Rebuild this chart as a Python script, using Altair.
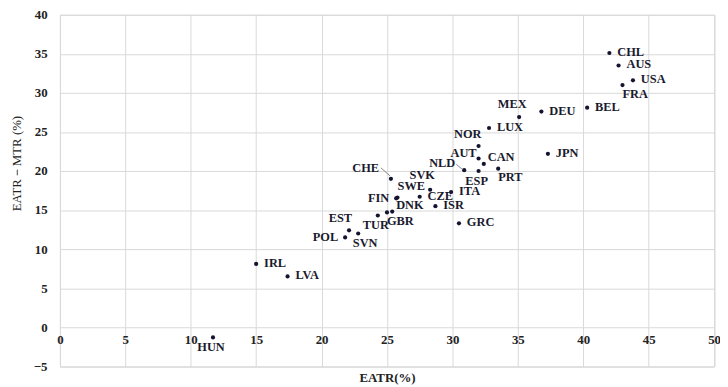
import altair as alt
import pandas as pd

countries = ["CHL", "AUS", "USA", "FRA", "BEL", "DEU", "MEX", "LUX", "NOR", "AUT", "CAN",
             "NLD", "ESP", "PRT", "JPN", "CHE", "SVK", "SWE", "FIN", "CZE", "ITA", "ISR",
             "DNK", "GBR", "TUR", "GRC", "EST", "SVN", "POL", "IRL", "LVA", "HUN"]
eatr = [42.0, 42.7, 43.8, 43.0, 40.3, 36.8, 35.1, 32.8, 32.0, 32.0, 32.4,
        30.9, 32.0, 33.5, 37.3, 25.3, 28.3, 25.8, 25.7, 27.5, 29.9, 28.7,
        25.4, 25.0, 24.3, 30.5, 22.1, 22.8, 21.8, 15.0, 17.4, 11.7]
gap = [35.1, 33.5, 31.6, 31.0, 28.1, 27.6, 26.9, 25.5, 23.2, 21.6, 20.9,
       20.1, 20.0, 20.3, 22.2, 19.0, 17.6, 16.6, 16.5, 16.7, 17.3, 15.5,
       14.8, 14.7, 14.3, 13.3, 12.4, 12.0, 11.5, 8.1, 6.5, -1.3]
placement = ["r", "r", "r", "br", "r", "r", "a", "r", "al", "lu", "ru",
             "luc", "b", "br", "r", "alc", "a2", "ar", "l", "r", "r", "r",
             "ru", "br", "b", "r", "al", "bR", "l", "r", "r", "b"]

x_ticks = list(range(0, 51, 5))
y_ticks = list(range(-5, 41, 5))

label_styles = {
    "r": dict(dx=8, dy=-1, align="left"),
    "l": dict(dx=-7, dy=0, align="right"),
    "b": dict(dx=-2, dy=10, align="center"),
    "bR": dict(dx=7, dy=10, align="center"),
    "br": dict(dx=0, dy=9, align="left"),
    "a": dict(dx=-7, dy=-13, align="center"),
    "a2": dict(dx=-8, dy=-15, align="center"),
    "ar": dict(dx=14, dy=-12, align="center"),
    "al": dict(dx=3, dy=-12, align="right"),
    "alc": dict(dx=-12, dy=-11, align="right"),
    "lu": dict(dx=-2, dy=-6, align="right"),
    "luc": dict(dx=-9, dy=-7, align="right"),
    "ru": dict(dx=4, dy=-7, align="left"),
}

df = pd.DataFrame({"country": countries, "eatr": eatr, "gap": gap, "pos": placement})

FONT = "Liberation Serif"

x_scale = alt.Scale(domain=[0, 50], nice=False, zero=False)
y_scale = alt.Scale(domain=[-5, 40], nice=False, zero=False)

x_axis = alt.Axis(values=x_ticks, grid=True, gridColor="#d9d9d9", domain=False,
                  ticks=False, labelPadding=-33, labelFont=FONT, labelFontSize=13,
                  labelFontWeight="bold", labelColor="#222222", labelFlush=False,
                  labelOverlap=False,
                  title="EATR(%)", titleFont=FONT, titleFontSize=13,
                  titleFontWeight="bold", titleColor="#222222",
                  titleBaseline="middle", titleY=11)
y_axis = alt.Axis(values=y_ticks, grid=True, gridColor="#d9d9d9", domain=False,
                  ticks=False, labelPadding=13, labelFont=FONT, labelFontSize=13,
                  labelFontWeight="bold", labelColor="#222222",
                  labelOverlap=False, labelFlush=False, labelBound=False,
                  title="EATR－MTR (%)", titleFont=FONT, titleFontSize=13,
                  titleFontWeight="normal", titleColor="#222222",
                  titleX=-44, titleY=150, titleBaseline="middle",
                  titleAlign="center", titleAngle=270)


def xe():
    return alt.X("eatr:Q", scale=x_scale, axis=x_axis)


def ye():
    return alt.Y("gap:Q", scale=y_scale, axis=y_axis)


base = alt.Chart(df)

points = base.mark_circle(size=18, color="#141430", opacity=1).encode(x=xe(), y=ye())

conn_nld = base.transform_filter(alt.datum.country == "NLD").mark_rule(
    color="#888888", strokeWidth=1, xOffset=-2, yOffset=-1, x2Offset=-8, y2Offset=-6
).encode(x=xe(), y=ye(), x2="eatr:Q", y2="gap:Q")
conn_che = base.transform_filter(alt.datum.country == "CHE").mark_rule(
    color="#888888", strokeWidth=1, xOffset=-1, yOffset=-3, x2Offset=-10, y2Offset=-11
).encode(x=xe(), y=ye(), x2="eatr:Q", y2="gap:Q")

layers = [points, conn_nld, conn_che]
for code, st in label_styles.items():
    layers.append(
        base.transform_filter(alt.datum.pos == code).mark_text(
            font=FONT, fontSize=12.5, fontWeight="bold", color="#1a1a2e",
            baseline="middle", **st
        ).encode(x=xe(), y=ye(), text="country:N")
    )

chart = alt.layer(*layers).properties(
    width=661.5, height=355.5, autosize="none",
    padding={"left": 52.5, "top": 4.7, "right": 6, "bottom": 18},
).configure_view(stroke=None).configure(background="white")

chart.save("out.html", embed_options={"renderer": "svg", "actions": False})
